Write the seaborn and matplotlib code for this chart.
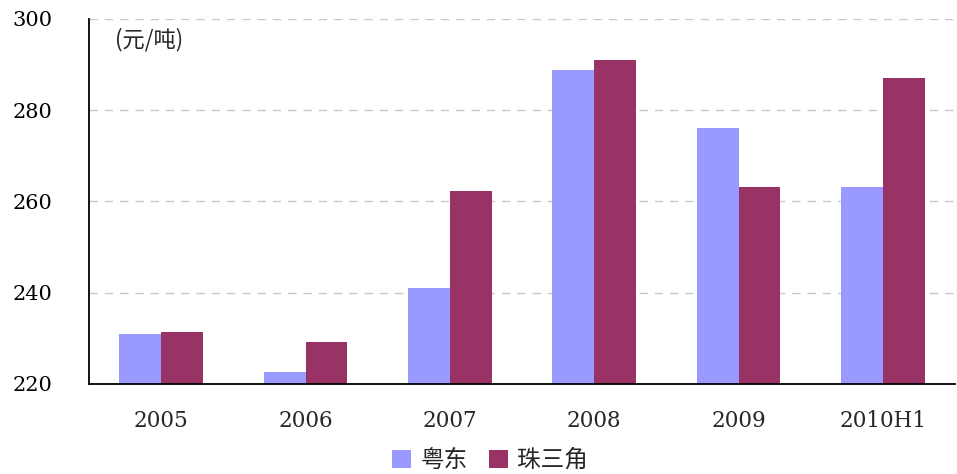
import pandas as pd
import seaborn as sns
import matplotlib.pyplot as plt
from matplotlib.ticker import FixedLocator

years = ['2005', '2006', '2007', '2008', '2009', '2010H1']
yuedong = [231.0, 222.6, 241.0, 288.8, 276.1, 263.2]
zhusanjiao = [231.4, 229.2, 262.3, 291.0, 263.2, 287.1]
series_names = ['粤东', '珠三角']
colors = ['#9999FF', '#993366']

df = pd.DataFrame({
    'year': years * 2,
    'price': yuedong + zhusanjiao,
    'region': [series_names[0]] * len(years) + [series_names[1]] * len(years),
})

sns.set_style('white')
plt.rcParams['font.family'] = ['DejaVu Serif', 'Noto Sans CJK SC']

fig = plt.figure(figsize=(9.57, 4.74), dpi=100)
ax = fig.add_axes([0.093, 0.19, 0.905, 0.77])

sns.barplot(data=df, x='year', y='price', hue='region', palette=colors,
            width=0.58, gap=0, saturation=1, linewidth=0, ax=ax, legend=True)

ax.set_ylim(220, 300)
ax.set_xlim(-0.5, 5.5)
ax.set_yticks([220, 240, 260, 280, 300])
ax.yaxis.grid(True, color='#c8c8c8', linestyle=(0, (6, 5)), linewidth=1)
ax.set_axisbelow(True)
ax.set_xlabel('')
ax.set_ylabel('')

for s in ['top', 'right']:
    ax.spines[s].set_visible(False)
for s in ['left', 'bottom']:
    ax.spines[s].set_color('black')
    ax.spines[s].set_linewidth(1.3)

ax.tick_params(axis='y', direction='in', length=6, width=1.2, pad=26,
               labelsize=15, colors='black')
ax.tick_params(axis='x', which='major', length=0, pad=19, labelsize=15.5)
ax.xaxis.set_minor_locator(FixedLocator([0.5, 1.5, 2.5, 3.5, 4.5]))
ax.tick_params(axis='x', which='minor', direction='in', length=6, width=1.2)

ax.text(0.03, 0.975, '(元/吨)', transform=ax.transAxes, fontsize=16,
        va='top', ha='left', family=['Noto Sans CJK SC'])

handles, labels = ax.get_legend_handles_labels()
ax.legend_.remove()
fig.legend(handles, labels, loc='center', bbox_to_anchor=(0.512, 0.028),
           ncol=2, frameon=False, handlelength=0.8, handleheight=0.8,
           handletextpad=0.4, columnspacing=0.9,
           prop={'family': ['Noto Sans CJK SC'], 'size': 17})

fig.savefig('out.png', dpi=100)
